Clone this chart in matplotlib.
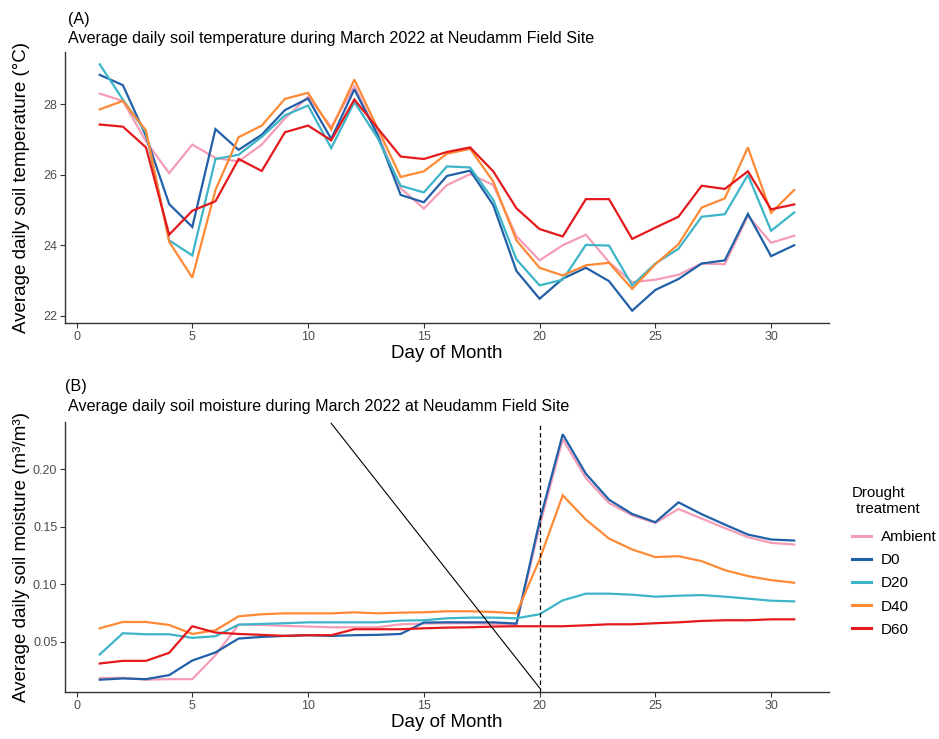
import numpy as np
import matplotlib.pyplot as plt
from matplotlib.lines import Line2D

plt.rcParams['font.family'] = ['Liberation Sans', 'DejaVu Sans']

days = np.arange(1, 32)
treatments = ['Ambient', 'D0', 'D20', 'D40', 'D60']
colors = {'Ambient': '#F59DB6', 'D0': '#2160A8', 'D20': '#3DB5C8',
          'D40': '#FF8A35', 'D60': '#E3191C'}

# average daily soil temperature (deg C), March 2022
temp_ambient = [28.31, 28.10, 26.95, 26.05, 26.86, 26.48, 26.38, 26.86, 27.60, 28.22,
                27.36, 28.52, 27.17, 25.62, 25.04, 25.71, 26.02, 25.71, 24.26, 23.57,
                24.00, 24.30, 23.52, 22.95, 23.02, 23.16, 23.48, 23.46, 24.84, 24.07, 24.27]
temp_d0 = [28.84, 28.55, 27.10, 25.17, 24.52, 27.30, 26.71, 27.14, 27.84, 28.17,
           27.02, 28.43, 27.14, 25.43, 25.22, 25.97, 26.12, 25.14, 23.27, 22.48,
           23.05, 23.36, 22.98, 22.14, 22.73, 23.04, 23.48, 23.57, 24.89, 23.69, 24.00]
temp_d20 = [29.14, 28.14, 27.20, 24.14, 23.71, 26.45, 26.57, 27.08, 27.69, 27.97,
            26.76, 28.07, 27.05, 25.69, 25.50, 26.24, 26.21, 25.29, 23.60, 22.86,
            23.02, 24.01, 23.99, 22.86, 23.48, 23.90, 24.81, 24.88, 26.00, 24.41, 24.93]
temp_d40 = [27.86, 28.10, 27.26, 24.10, 23.08, 25.57, 27.07, 27.40, 28.16, 28.33,
            27.29, 28.71, 27.33, 25.94, 26.10, 26.60, 26.74, 25.81, 24.14, 23.36,
            23.14, 23.43, 23.50, 22.76, 23.46, 24.03, 25.07, 25.33, 26.78, 24.92, 25.57]
temp_d60 = [27.43, 27.37, 26.78, 24.30, 24.98, 25.25, 26.45, 26.11, 27.21, 27.40,
            26.98, 28.14, 27.33, 26.52, 26.45, 26.65, 26.78, 26.10, 25.05, 24.46,
            24.25, 25.31, 25.31, 24.18, 24.50, 24.81, 25.69, 25.60, 26.10, 25.02, 25.16]

# average daily soil moisture (m3/m3), March 2022
moist_ambient = [0.0185, 0.0188, 0.0171, 0.0176, 0.0176, 0.0384, 0.0650, 0.0647, 0.0639, 0.0633,
                 0.0627, 0.0627, 0.0627, 0.0653, 0.0659, 0.0662, 0.0662, 0.0656, 0.0647, 0.1505,
                 0.2262, 0.1924, 0.1707, 0.1600, 0.1534, 0.1655, 0.1572, 0.1490, 0.1410, 0.1361, 0.1346]
moist_d0 = [0.0171, 0.0182, 0.0176, 0.0211, 0.0338, 0.0408, 0.0529, 0.0543, 0.0552, 0.0558,
            0.0552, 0.0558, 0.0561, 0.0569, 0.0668, 0.0670, 0.0670, 0.0670, 0.0659, 0.1549,
            0.2305, 0.1962, 0.1736, 0.1612, 0.1540, 0.1713, 0.1610, 0.1520, 0.1433, 0.1390, 0.1381]
moist_d20 = [0.0390, 0.0575, 0.0566, 0.0566, 0.0535, 0.0549, 0.0650, 0.0656, 0.0662, 0.0670,
             0.0670, 0.0670, 0.0670, 0.0685, 0.0688, 0.0705, 0.0711, 0.0711, 0.0705, 0.0740,
             0.0861, 0.0919, 0.0919, 0.0910, 0.0893, 0.0901, 0.0907, 0.0893, 0.0876, 0.0858, 0.0852]
moist_d40 = [0.0618, 0.0673, 0.0673, 0.0647, 0.0569, 0.0601, 0.0722, 0.0740, 0.0748, 0.0748,
             0.0748, 0.0757, 0.0748, 0.0754, 0.0757, 0.0766, 0.0766, 0.0760, 0.0748, 0.1216,
             0.1774, 0.1563, 0.1398, 0.1303, 0.1237, 0.1245, 0.1202, 0.1124, 0.1072, 0.1037, 0.1014]
moist_d60 = [0.0312, 0.0335, 0.0335, 0.0405, 0.0636, 0.0581, 0.0569, 0.0561, 0.0552, 0.0558,
             0.0558, 0.0610, 0.0610, 0.0610, 0.0618, 0.0624, 0.0627, 0.0633, 0.0636, 0.0636,
             0.0636, 0.0644, 0.0653, 0.0653, 0.0662, 0.0670, 0.0682, 0.0688, 0.0688, 0.0696, 0.0696]

temps = [temp_ambient, temp_d0, temp_d20, temp_d40, temp_d60]
moists = [moist_ambient, moist_d0, moist_d20, moist_d40, moist_d60]

# drought onset marker and annotation segment
onset_day = 20
seg_x = [11, 20]
seg_y = [0.24, 0.01]

tick_col = '#4D4D4D'


def style_axis(ax, ylabel):
    for s in ['top', 'right']:
        ax.spines[s].set_visible(False)
    for s in ['left', 'bottom']:
        ax.spines[s].set_color('#333333')
        ax.spines[s].set_linewidth(1.0)
    ax.tick_params(colors='#333333', labelcolor=tick_col, labelsize=9,
                   length=3.5, width=0.8, pad=2)
    ax.set_xlim(-0.5, 32.5)
    ax.set_xticks(np.arange(0, 31, 5))
    ax.set_xlabel('Day of Month', fontsize=13.5, labelpad=2)
    ax.set_ylabel(ylabel, fontsize=13.5)
    ax.yaxis.set_label_coords(-0.046, 0.5)


fig = plt.figure(figsize=(9.39, 7.39), dpi=100)
ax1 = fig.add_axes([0.0692, 0.5629, 0.8136, 0.3667])
ax2 = fig.add_axes([0.0692, 0.0636, 0.8136, 0.3654])

# (A) soil temperature
for name, vals in zip(treatments, temps):
    ax1.plot(days, vals, color=colors[name], lw=1.6, solid_joinstyle='miter')
lo, hi = min(min(v) for v in temps), max(max(v) for v in temps)
pad = 0.05 * (hi - lo)
ax1.set_ylim(lo - pad, hi + pad)
ax1.set_yticks([22, 24, 26, 28])
style_axis(ax1, 'Average daily soil temperature (°C)')
ax1.text(0.004, 1.094, '(A)', transform=ax1.transAxes, fontsize=11.6,
         ha='left', va='bottom')
ax1.text(0.004, 1.024, 'Average daily soil temperature during March 2022 at Neudamm Field Site',
         transform=ax1.transAxes, fontsize=11.6, ha='left', va='bottom')

# (B) soil moisture
for name, vals in zip(treatments, moists):
    ax2.plot(days, vals, color=colors[name], lw=1.6, solid_joinstyle='miter')
lo, hi = min(min(v) for v in moists), max(max(v) for v in moists)
pad = 0.05 * (hi - lo)
ax2.set_ylim(lo - pad, hi + pad)
ax2.set_yticks([0.05, 0.10, 0.15, 0.20])
ax2.set_yticklabels(['0.05', '0.10', '0.15', '0.20'])
ax2.axvline(onset_day, color='black', lw=0.9, ls=(0, (3.5, 2.5)))
ax2.plot(seg_x, seg_y, color='black', lw=0.8)
style_axis(ax2, 'Average daily soil moisture (m³/m³)')
ax2.text(0.0, 1.104, '(B)', transform=ax2.transAxes, fontsize=11.6,
         ha='left', va='bottom')
ax2.text(0.004, 1.030, 'Average daily soil moisture during March 2022 at Neudamm Field Site',
         transform=ax2.transAxes, fontsize=11.6, ha='left', va='bottom')

handles = [Line2D([0], [0], color=colors[n], lw=2.2) for n in treatments]
leg = fig.legend(handles, treatments, title='Drought\n treatment',
                 loc='upper left', bbox_to_anchor=(0.9073, 0.3423),
                 borderpad=0, borderaxespad=0,
                 frameon=False, fontsize=11, title_fontsize=10.8,
                 handlelength=1.25, handletextpad=0.65, labelspacing=0.6)
leg._legend_box.align = 'left'
leg._legend_box.sep = 10

fig.savefig('out.png', dpi=100)
